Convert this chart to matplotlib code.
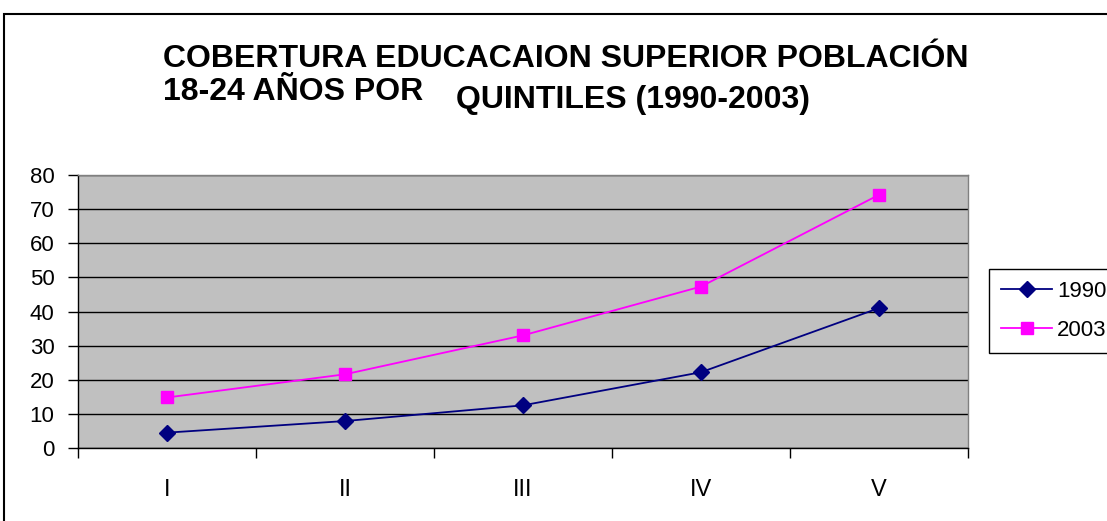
import matplotlib
matplotlib.use("Agg")
import matplotlib.pyplot as plt
from matplotlib.patches import Rectangle

categories = ["I", "II", "III", "IV", "V"]
series_1990 = [4.5, 7.9, 12.5, 22.2, 41.0]
series_2003 = [14.8, 21.6, 33.0, 47.3, 74.2]
y_ticks = [0, 10, 20, 30, 40, 50, 60, 70, 80]

plt.rcParams['font.family'] = ['Liberation Sans', 'DejaVu Sans']

W, H = 1107, 521
fig = plt.figure(figsize=(W / 100, H / 100), dpi=100)
fig.patch.set_facecolor('white')

def fx(px):
    return px / W

def fy(py):
    return 1 - py / H

# outer chart border (cropped on right/bottom)
fig.patches.append(Rectangle((fx(4), fy(1000)), fx(1200), fy(14) - fy(1000),
                             transform=fig.transFigure, fill=False,
                             edgecolor='black', linewidth=1.5, clip_on=False))

ax = fig.add_axes([fx(78), fy(448), fx(968) - fx(78), fy(175) - fy(448)])
ax.set_facecolor('#C0C0C0')
x = list(range(len(categories)))
ax.plot(x, series_1990, color='#000080', marker='D', markersize=8, linewidth=1.3,
        label='1990', zorder=3)
ax.plot(x, series_2003, color='#FF00FF', marker='s', markersize=8, linewidth=1.3,
        label='2003', zorder=3)

ax.set_xlim(-0.5, len(categories) - 0.5)
ax.set_ylim(0, 80)
ax.set_yticks(y_ticks)
ax.set_yticklabels([str(v) for v in y_ticks], fontsize=16)
ax.yaxis.grid(True, color='black', linewidth=1)
ax.set_axisbelow(True)
ax.tick_params(axis='y', length=7, width=1, direction='out', pad=10)

ax.set_xticks(x)
ax.set_xticklabels(categories, fontsize=17)
ax.tick_params(axis='x', which='major', length=0, pad=22)
ax.set_xticks([i + 0.5 for i in range(-1, len(categories))], minor=True)
ax.tick_params(axis='x', which='minor', length=7, width=1, direction='out')

for s in ['top', 'right']:
    ax.spines[s].set_color('#808080')
    ax.spines[s].set_linewidth(1)
for s in ['left', 'bottom']:
    ax.spines[s].set_color('black')
    ax.spines[s].set_linewidth(1)

# title
fig.text(fx(163), fy(67), "COBERTURA EDUCACAION SUPERIOR POBLACIÓN",
         fontsize=23, fontweight='bold', ha='left', va='baseline')
fig.text(fx(163), fy(100), "18-24 AÑOS POR",
         fontsize=23, fontweight='bold', ha='left', va='baseline')
fig.text(fx(456), fy(108), "QUINTILES (1990-2003)",
         fontsize=23, fontweight='bold', ha='left', va='baseline')

# legend
leg = fig.legend(loc='upper left', bbox_to_anchor=(fx(989), fy(269)),
                 bbox_transform=fig.transFigure, fontsize=16, frameon=True,
                 fancybox=False, edgecolor='black', framealpha=1,
                 handlelength=2.3, handletextpad=0.2, borderpad=0.55,
                 labelspacing=0.8, borderaxespad=0)
leg.get_frame().set_linewidth(1)

fig.savefig("out.png", dpi=100)
